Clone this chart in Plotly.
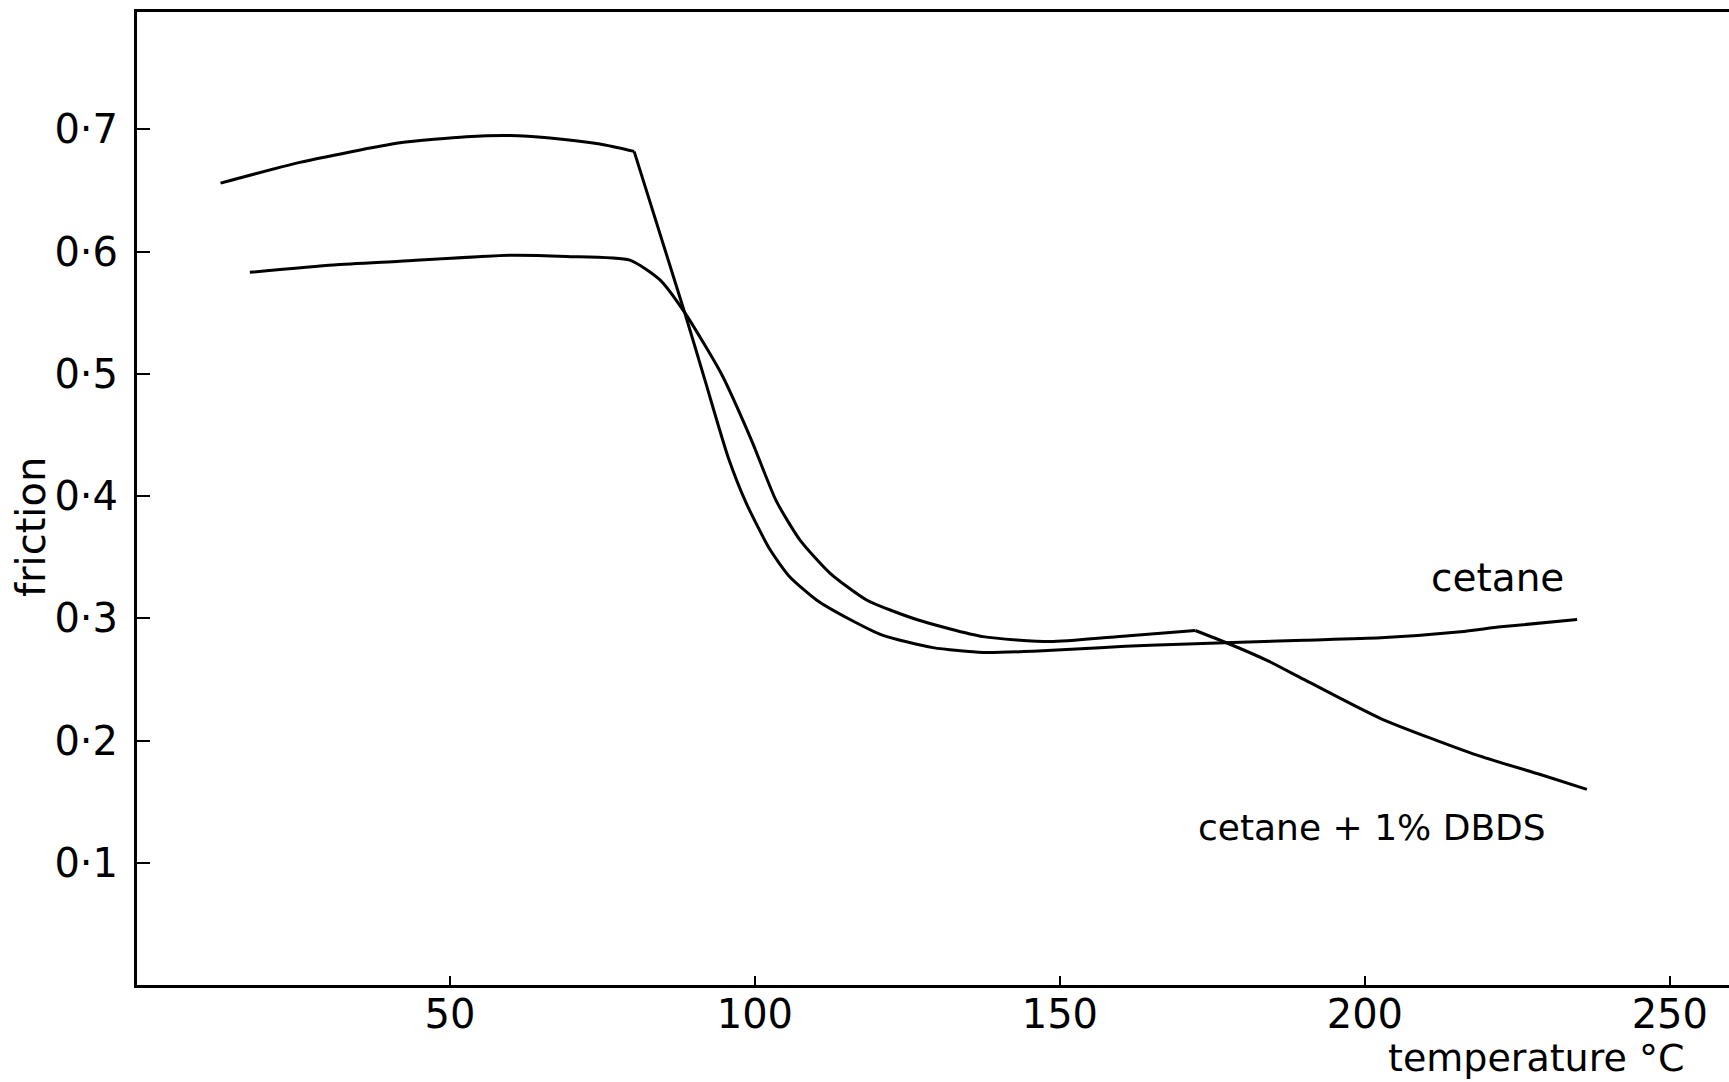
import plotly.graph_objects as go

# cetane
cetane_x = [12.4, 25.4, 41.8, 52.7, 59.8, 66.4, 74.6, 80.2, 88.5, 91.8, 95.6, 98.6,
            102.5, 105.7, 110.1, 115.6, 121.0, 129.2, 137.4, 145.6, 156.6, 164.8,
            177.0, 190.0, 202.6, 215.7, 222.3, 234.8]
cetane_y = [0.656, 0.673, 0.689, 0.694, 0.695, 0.693, 0.688, 0.682, 0.550, 0.495,
            0.432, 0.394, 0.356, 0.334, 0.315, 0.299, 0.286, 0.276, 0.272, 0.273,
            0.276, 0.278, 0.280, 0.282, 0.284, 0.289, 0.293, 0.299]

# cetane + 1% DBDS
dbds_x = [17.2, 30.9, 41.8, 59.8, 69.1, 79.5, 84.4, 88.5, 94.5, 99.5, 103.5, 107.4,
          112.3, 118.3, 126.5, 137.4, 148.4, 159.3, 172.2, 177.3, 184.2, 190.0,
          202.6, 218.4, 228.9, 236.4]
dbds_y = [0.583, 0.589, 0.592, 0.597, 0.596, 0.593, 0.577, 0.550, 0.500, 0.445,
          0.396, 0.364, 0.337, 0.315, 0.299, 0.285, 0.281, 0.285, 0.290, 0.280,
          0.265, 0.250, 0.218, 0.188, 0.172, 0.160]

x_ticks = [50, 100, 150, 200, 250]
x_ticktext = ["50", "100", "150", "200", "250"]
y_ticks = [0.1, 0.2, 0.3, 0.4, 0.5, 0.6, 0.7]
y_ticktext = ["0·1", "0·2", "0·3", "0·4", "0·5", "0·6", "0·7"]

FONT = "DejaVu Sans, Liberation Sans, sans-serif"
LINE = dict(color="black", width=3, shape="spline", smoothing=0.6)

# sharp corners: cetane at its drop (index 7), DBDS at its little peak (index 18)
CET_CORNER = 7
DBDS_CORNER = 18

fig = go.Figure()
for xs, ys, name in [
    (cetane_x[:CET_CORNER + 1], cetane_y[:CET_CORNER + 1], "cetane"),
    (cetane_x[CET_CORNER:], cetane_y[CET_CORNER:], "cetane"),
    (dbds_x[:DBDS_CORNER + 1], dbds_y[:DBDS_CORNER + 1], "cetane + 1% DBDS"),
    (dbds_x[DBDS_CORNER:], dbds_y[DBDS_CORNER:], "cetane + 1% DBDS"),
]:
    fig.add_trace(go.Scatter(x=xs, y=ys, mode="lines", line=LINE, name=name,
                             showlegend=False))

fig.add_annotation(x=221.8, y=0.333, xref="x", yref="y", text="cetane",
                   showarrow=False, font=dict(family=FONT, size=39, color="black"),
                   xanchor="center", yanchor="middle")
fig.add_annotation(x=201.1, y=0.129, xref="x", yref="y", text="cetane + 1% DBDS",
                   showarrow=False, font=dict(family=FONT, size=36, color="black"),
                   xanchor="center", yanchor="middle")

W, H = 1729, 1082
L, R, T, B = 137, 0, 12, 97


def paper_x(px):
    return (px - L) / (W - L - R)


def paper_y(py):
    return (H - B - py) / (H - T - B)


fig.add_annotation(x=paper_x(31), y=paper_y(527), xref="paper", yref="paper",
                   text="friction", showarrow=False, textangle=-90,
                   font=dict(family=FONT, size=40, color="black"),
                   xanchor="center", yanchor="middle")
fig.add_annotation(x=paper_x(1536), y=paper_y(1058), xref="paper", yref="paper",
                   text="temperature °C", showarrow=False,
                   font=dict(family=FONT, size=38, color="black"),
                   xanchor="center", yanchor="middle")

fig.update_layout(
    width=W, height=H,
    margin=dict(l=L, r=R, t=T, b=B),
    paper_bgcolor="white", plot_bgcolor="white",
    font=dict(family=FONT, size=40, color="black"),
    showlegend=False,
)
fig.update_xaxes(range=[-1.3, 259.7], tickvals=x_ticks, ticktext=x_ticktext,
                 ticks="inside", ticklen=9, tickwidth=2, tickcolor="black",
                 showline=True, linecolor="black", linewidth=3, mirror=True,
                 showgrid=False, zeroline=False, ticklabelstandoff=-8,
                 tickfont=dict(family=FONT, size=40, color="black"))
fig.update_yaxes(range=[0, 0.796], tickvals=y_ticks, ticktext=y_ticktext,
                 ticks="inside", ticklen=13, tickwidth=2, tickcolor="black",
                 showline=True, linecolor="black", linewidth=3,
                 showgrid=False, zeroline=False, ticklabelstandoff=8,
                 tickfont=dict(family=FONT, size=40, color="black"))

fig.write_html("out.html")
